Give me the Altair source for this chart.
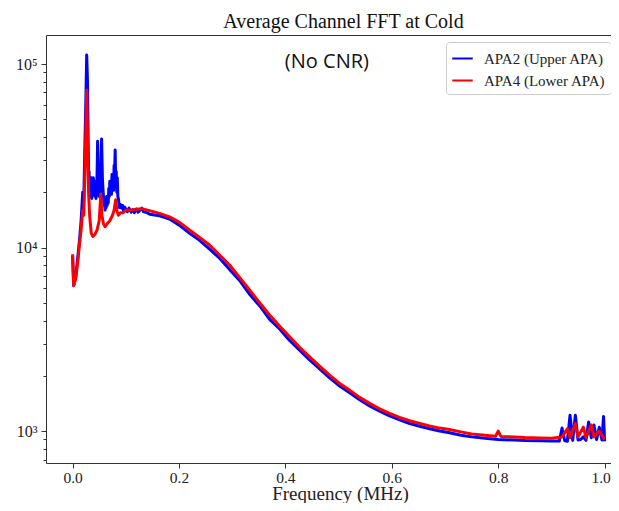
import altair as alt
import pandas as pd

# ---- data ----
apa2_freq = [0.000, 0.002, 0.006, 0.010, 0.013, 0.016, 0.019, 0.021, 0.023, 0.025, 0.0265, 0.028, 0.029,
             0.030, 0.031, 0.032, 0.033, 0.034, 0.035, 0.036, 0.037, 0.038, 0.039, 0.040, 0.041, 0.042,
             0.043, 0.044, 0.045, 0.046, 0.047, 0.048, 0.049, 0.050, 0.051, 0.052, 0.053, 0.0545,
             0.056, 0.057, 0.058, 0.059, 0.060, 0.061, 0.062, 0.063, 0.064, 0.065, 0.066, 0.067, 0.068,
             0.069, 0.070, 0.071, 0.072, 0.073, 0.074, 0.075, 0.076, 0.077, 0.078, 0.079, 0.080,
             0.081, 0.082, 0.083, 0.084, 0.085, 0.086, 0.088, 0.090, 0.092, 0.094, 0.096, 0.098, 0.100,
             0.103, 0.106, 0.110, 0.113, 0.116, 0.120, 0.123, 0.126, 0.130, 0.133, 0.136, 0.140, 0.145,
             0.1635, 0.1823, 0.2011, 0.2199, 0.2387, 0.2575, 0.2763, 0.2951, 0.3139, 0.3327, 0.3515,
             0.3703, 0.3891, 0.4079, 0.4267, 0.4455, 0.4643, 0.4831, 0.5019, 0.5207, 0.5395, 0.5583,
             0.5771, 0.5959, 0.6147, 0.6335, 0.6523, 0.6711, 0.6898, 0.7086, 0.730, 0.750, 0.780,
             0.800, 0.830, 0.850, 0.880, 0.900, 0.915, 0.920, 0.925, 0.930, 0.935, 0.940, 0.945, 0.950,
             0.955, 0.960, 0.965, 0.970, 0.975, 0.980, 0.985, 0.990, 0.995, 0.998, 1.000]
apa2_fft = [9000, 6200, 7000, 9000, 11000, 14000, 20000, 18000, 35000, 65000, 112000, 80000, 45000,
            24000, 26000, 19000, 23000, 20000, 24000, 18500, 22000, 19500, 24000, 20000, 23000, 19000,
            22000, 18500, 21000, 25000, 38000, 21000, 26000, 19000, 22000, 20000, 28000, 39000,
            24000, 21000, 19000, 17000, 17500, 16000, 18000, 16500, 19000, 17000, 18500, 17500, 21000,
            19000, 23000, 20000, 21500, 19500, 25000, 21000, 23000, 20500, 28000, 25000, 34000,
            22000, 26000, 20000, 24000, 19000, 18500, 16500, 17200, 16400, 17000, 15800, 16600, 16200,
            15700, 16400, 15600, 16100, 15500, 16200, 15600, 15900, 16400, 15700, 15600, 15500, 15200,
            14900, 14300, 13200, 11950, 10950, 9800, 8750, 7600, 6620, 5560, 4820,
            4060, 3600, 3120, 2760, 2440, 2185, 1950, 1760, 1615, 1480, 1370,
            1285, 1210, 1150, 1100, 1062, 1030, 1000, 980, 950, 930, 910,
            900, 893, 888, 885, 882, 883, 1040, 885, 880, 1220, 890, 1220, 895,
            900, 930, 890, 1120, 920, 1080, 900, 1050, 895, 1200, 880]

apa4_freq = [0.000, 0.002, 0.006, 0.010, 0.013, 0.016, 0.019, 0.021, 0.023, 0.025, 0.0265, 0.028, 0.030,
             0.032, 0.035, 0.038, 0.042, 0.046, 0.050, 0.053, 0.055, 0.058, 0.061, 0.065, 0.070, 0.075,
             0.078, 0.081, 0.083, 0.086, 0.090, 0.095, 0.100, 0.110, 0.120, 0.130, 0.1447, 0.1635,
             0.1823, 0.2011, 0.2199, 0.2387, 0.2575, 0.2763, 0.2951, 0.3139, 0.3327, 0.3515, 0.3703,
             0.3891, 0.4079, 0.4267, 0.4455, 0.4643, 0.4831, 0.5019, 0.5207, 0.5395, 0.5583, 0.5771,
             0.5959, 0.6147, 0.6335, 0.6523, 0.6711, 0.6898, 0.7086, 0.730, 0.750, 0.780, 0.795, 0.800,
             0.805, 0.830, 0.850, 0.880, 0.900, 0.920, 0.930, 0.935, 0.945, 0.950, 0.960, 0.965, 0.975,
             0.980, 0.990, 1.000]
apa4_fft = [9200, 6200, 6800, 8500, 10500, 12500, 16000, 15000, 25000, 45000, 72000, 40000, 20000,
            15000, 12000, 11500, 11800, 12500, 14000, 19500, 15000, 13500, 13000, 13500, 14000, 15000,
            16000, 18200, 16000, 15000, 15500, 15500, 16000, 16000, 16200, 16300, 15900, 15360,
            14700, 13720, 12460, 11365, 10320, 9101, 8030, 6880, 5870, 5003, 4290,
            3735, 3265, 2858, 2540, 2261, 2020, 1819, 1672, 1526, 1416, 1323,
            1249, 1188, 1138, 1101, 1065, 1038, 1021, 990, 965, 945, 937, 1000,
            935, 928, 922, 918, 915, 930, 1030, 920, 1100, 930, 1050, 920, 1080,
            930, 1000, 900]

series_names = ["APA2 (Upper APA)", "APA4 (Lower APA)"]
series_colors = ["#0000ff", "#ff0000"]

x_ticks = [0.0, 0.2, 0.4, 0.6, 0.8, 1.0]
y_major = [1000, 10000, 100000]
y_minor = [700, 800, 900, 2000, 3000, 4000, 5000, 6000, 7000, 8000, 9000,
           20000, 30000, 40000, 50000, 60000, 70000, 80000, 90000]

note_text = ["(No CNR)"]
note_freq = [0.478]
note_fft = [95100]

df = pd.concat([
    pd.DataFrame({"freq": apa2_freq, "fft": apa2_fft, "series": series_names[0]}),
    pd.DataFrame({"freq": apa4_freq, "fft": apa4_fft, "series": series_names[1]}),
], ignore_index=True)
df["order"] = range(len(df))
note_df = pd.DataFrame({"freq": note_freq, "fft": note_fft, "label": note_text})

SERIF = "Liberation Serif"
AX_COLOR = "#333333"

xscale = alt.Scale(domain=[-0.05, 1.012], nice=False, zero=False)
yscale = alt.Scale(type="log", domain=[670, 144000], nice=False)

lines = alt.Chart(df).mark_line(strokeWidth=3, strokeJoin="round", clip=True).encode(
    x=alt.X("freq:Q", scale=xscale,
            axis=alt.Axis(values=x_ticks, format=".1f", title="Frequency (MHz)", grid=False,
                          labelFont=SERIF, labelFontSize=15.5, labelColor="#222",
                          labelOffset={"condition": {"test": "datum.value == 1", "value": -4}, "value": 0},
                          titleFont=SERIF, titleFontSize=19, titleFontWeight="normal", titleColor="#222",
                          titleX=294, titleY=36, titleBaseline="alphabetic",
                          tickSize=5, tickColor=AX_COLOR, domainColor=AX_COLOR, labelPadding=2)),
    y=alt.Y("fft:Q", scale=yscale,
            axis=alt.Axis(values=y_major, title=None, grid=False,
                          labelExpr="datum.value == 1000 ? '10³' : (datum.value == 10000 ? '10⁴' : '10⁵')",
                          labelFont=SERIF, labelFontSize=16, labelColor="#222",
                          tickSize=5, tickColor=AX_COLOR, domainColor=AX_COLOR, labelPadding=4)),
    color=alt.Color("series:N", scale=alt.Scale(domain=series_names, range=series_colors),
                    legend=alt.Legend(title=None, orient="none", legendX=400, legendY=7,
                                      symbolType="stroke", symbolSize=420, symbolStrokeWidth=2,
                                      labelFont=SERIF, labelFontSize=15, labelColor="#222",
                                      labelOffset=10, rowPadding=2,
                                      fillColor="white", strokeColor="#cccccc", cornerRadius=3,
                                      padding=5)),
    order="order:Q",
)

note = alt.Chart(note_df).mark_text(font="Open Sans", fontSize=20, baseline="alphabetic",
                                    align="center", color="#111").encode(
    x=alt.X("freq:Q", scale=xscale,
            axis=alt.Axis(orient="top", labels=False, ticks=False, title=None, grid=False,
                          domainColor=AX_COLOR)),
    y=alt.Y("fft:Q", scale=yscale,
            axis=alt.Axis(orient="left", values=y_minor, labels=False, title=None, grid=False,
                          tickSize=3, tickColor=AX_COLOR, domain=False)),
    text="label:N",
)

chart = alt.layer(lines, note).resolve_axis(x="independent", y="independent").properties(
    width=565, height=428,
    title=alt.TitleParams("Average Channel FFT at Cold", font=SERIF, fontSize=20, fontWeight="normal",
                          color="#111", anchor="middle", dx=15, dy=22, offset=9, baseline="alphabetic"),
    autosize=alt.AutoSizeParams(type="none"),
    padding={"left": 38, "top": 27, "right": 0, "bottom": 40},
).configure_view(stroke=None)

chart.save("out.html", embed_options={"renderer": "svg", "actions": False})
